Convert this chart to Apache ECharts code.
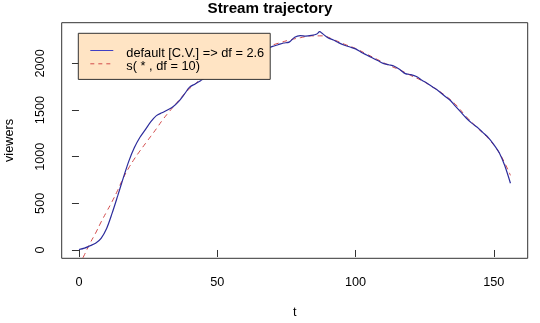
<!DOCTYPE html>
<html>
<head>
<meta charset="utf-8">
<script src="https://cdn.jsdelivr.net/npm/echarts@6/dist/echarts.min.js"></script>
<style>
  html, body { margin: 0; padding: 0; background: #fff; }
  #chart { width: 540px; height: 323px; }
</style>
</head>
<body>
<div id="chart"></div>
<script>
// Time points (t) and viewer counts for the two smoothing fits
const tDefault = [0, 2, 4, 6, 8, 10, 12, 14, 16, 18, 20, 22, 24, 26, 28, 30, 32, 34, 36, 38,
  40, 42, 44, 46, 48, 50, 52, 54, 56, 58, 60, 62, 64, 66, 68, 70, 72, 74, 76, 78,
  80, 82, 84, 86, 87, 88, 90, 92, 94, 96, 98, 100, 102, 104, 106, 108, 110, 112, 114, 116,
  118, 120, 122, 124, 126, 128, 130, 132, 134, 136, 138, 140, 142, 144, 146, 148, 150, 152, 154, 156];
const vDefault = [5, 20, 45, 72, 125, 230, 395, 580, 770, 950, 1095, 1205, 1290, 1375, 1440, 1470, 1500, 1535, 1590, 1665,
  1745, 1780, 1815, 1850, 1880, 1910, 1940, 1970, 2000, 2030, 2060, 2085, 2110, 2135, 2160, 2182, 2200, 2218, 2228, 2280,
  2297, 2293, 2300, 2315, 2340, 2320, 2275, 2250, 2220, 2195, 2175, 2155, 2120, 2090, 2060, 2030, 2000, 1985, 1970, 1935,
  1890, 1880, 1860, 1820, 1785, 1745, 1705, 1655, 1610, 1545, 1480, 1415, 1360, 1315, 1260, 1205, 1130, 1040, 900, 715];

const tDf10 = [0, 2, 4, 6, 8, 10, 12, 14, 16, 18, 20, 22, 24, 26, 28, 30, 32, 34, 36, 38,
  40, 42, 44, 48, 52, 56, 60, 64, 68, 72, 76, 80, 84, 88, 92, 96, 100, 104, 108, 112,
  116, 120, 124, 128, 132, 136, 140, 144, 148, 152, 156];
const vDf10 = [-170, -50, 72, 180, 300, 410, 520, 640, 770, 880, 975, 1060, 1140, 1220, 1300, 1385, 1460, 1530, 1600, 1668,
  1730, 1780, 1830, 1910, 1985, 2050, 2100, 2145, 2180, 2215, 2250, 2275, 2295, 2295, 2255, 2205, 2160, 2100, 2040, 1980,
  1930, 1870, 1815, 1745, 1665, 1565, 1430, 1310, 1195, 1040, 800];

const xTicks = [0, 50, 100, 150];
const yTicks = [0, 500, 1000, 1500, 2000];
const seriesNames = ['default [C.V.] => df = 2.6', 's( * , df = 10)'];

const pair = (ts, vs) => ts.map((t, i) => [t, vs[i]]);
const FONT = 'Liberation Sans, Arial, Helvetica, sans-serif';
const BLUE = '#2c2c9c';
const RED = '#d24a4a';

// Legend key samples (short line strokes beside the legend text)
const keyLine = (y, stroke, dash) => ({
  type: 'line',
  z: 100,
  silent: true,
  shape: { x1: 90.3, y1: y, x2: 113.3, y2: y },
  style: { stroke: stroke, lineWidth: 1, lineDash: dash }
});

const chart = echarts.init(document.getElementById('chart'), null, { renderer: 'canvas' });
chart.setOption({
  animation: false,
  backgroundColor: '#ffffff',
  textStyle: { fontFamily: FONT, color: '#000' },
  title: {
    text: 'Stream trajectory',
    left: 'center',
    top: 1.5,
    padding: 0,
    textStyle: { fontFamily: FONT, fontSize: 15.2, fontWeight: 'bold', color: '#000' }
  },
  grid: {
    left: 61.7, right: 12.3, top: 22.7, bottom: 64.7,
    outerBoundsMode: 'none',
    containLabel: false,
    show: true, borderColor: '#333', borderWidth: 1, backgroundColor: 'transparent'
  },
  legend: {
    orient: 'vertical',
    left: 78.3, top: 33.3,
    data: seriesNames,
    backgroundColor: '#FFE4C4',
    borderColor: '#333',
    borderWidth: 1,
    borderRadius: 0,
    padding: [13.5, 6, 6, 12],
    itemWidth: 23,
    itemHeight: 13.3,
    itemGap: 0,
    itemStyle: { opacity: 0 },
    lineStyle: { opacity: 0 },
    textStyle: { fontFamily: FONT, fontSize: 12.8, color: '#000', padding: [0, 0, 0, 7], lineHeight: 13.3 }
  },
  graphic: [
    keyLine(50.5, '#4040c4', null),
    keyLine(63.8, RED, [4, 4])
  ],
  xAxis: {
    type: 'value',
    min: -6.24, max: 162.24,
    name: 't',
    nameLocation: 'middle',
    nameGap: 48,
    nameTextStyle: { fontFamily: FONT, fontSize: 12.7, color: '#000' },
    axisLine: { show: false },
    splitLine: { show: false },
    axisTick: { show: true, inside: false, length: 7, customValues: xTicks, lineStyle: { color: '#333' } },
    axisLabel: { customValues: xTicks, margin: 18, fontFamily: FONT, fontSize: 12.7, color: '#000' }
  },
  yAxis: {
    type: 'value',
    min: -89, max: 2436,
    name: 'viewers',
    nameLocation: 'middle',
    nameGap: 46,
    nameRotate: 90,
    nameTextStyle: { fontFamily: FONT, fontSize: 12.7, color: '#000' },
    axisLine: { show: false },
    splitLine: { show: false },
    axisTick: { show: true, inside: false, length: 7, customValues: yTicks, lineStyle: { color: '#333' } },
    axisLabel: {
      customValues: yTicks, rotate: 90, margin: 15,
      formatter: (v) => String(v),
      fontFamily: FONT, fontSize: 12.7, color: '#000'
    }
  },
  series: [
    {
      name: seriesNames[0],
      type: 'line',
      data: pair(tDefault, vDefault),
      showSymbol: false,
      symbol: 'none',
      smooth: 0.3,
      clip: true,
      lineStyle: { color: BLUE, width: 1.2, type: 'solid' },
      itemStyle: { color: BLUE },
      z: 3
    },
    {
      name: seriesNames[1],
      type: 'line',
      data: pair(tDf10, vDf10),
      showSymbol: false,
      symbol: 'none',
      smooth: 0.4,
      clip: true,
      lineStyle: { color: RED, width: 1, type: [5, 4] },
      itemStyle: { color: RED },
      z: 2
    }
  ]
});
</script>
</body>
</html>
